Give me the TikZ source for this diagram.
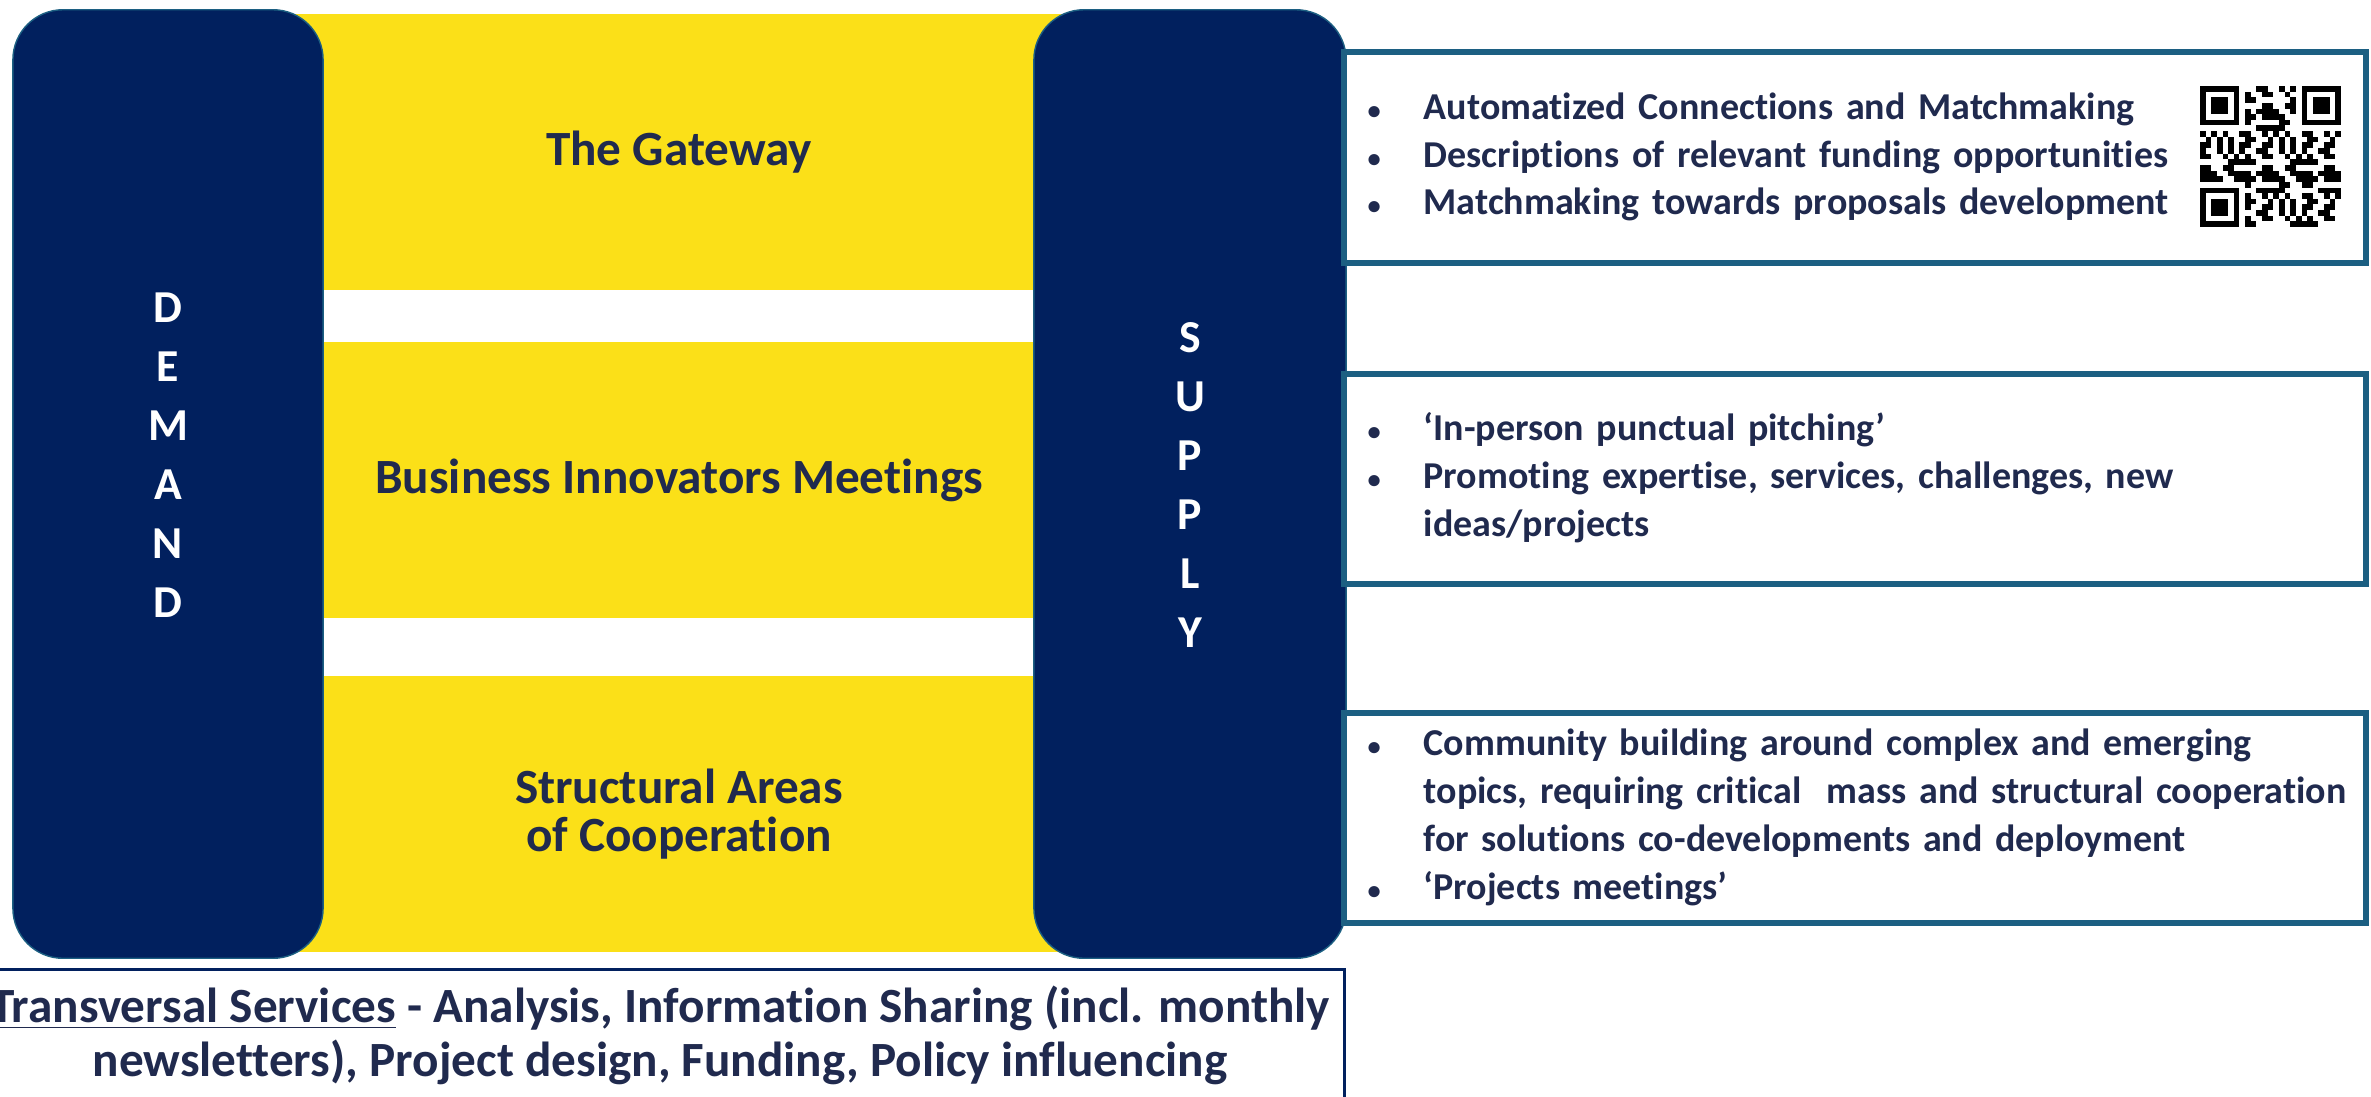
\documentclass[tikz,border=0pt]{standalone}
\usepackage{fontspec}
\setmainfont{Carlito}[Ligatures={TeX,NoCommon}]
\usepackage{tikz}
\usetikzlibrary{positioning}
\definecolor{PillarBlue}{HTML}{01205E}
\definecolor{GateYellow}{HTML}{FBE018}
\definecolor{TextNavy}{HTML}{202A4E}
\definecolor{BoxBlue}{HTML}{1C5F82}
\newcommand{\dotitem}{{\fontsize{7.5}{7.5}\selectfont\textbullet}}

\begin{document}
\begin{tikzpicture}[x=0.01cm, y=-0.01cm]
  \tikzset{PillarStyle/.style = {shape          = rectangle,
                                 fill           = PillarBlue,
                                 draw           = BoxBlue,
                                 line width     = 0.4pt,
                                 rounded corners = 0.5cm,
                                 minimum width  = 3.10cm,
                                 minimum height = 9.48cm,
                                 inner sep      = 0pt,
                                 outer sep      = 0pt}}
  \tikzset{LetterStyle/.style = {text           = white,
                                 font           = \fontsize{13}{16.8}\selectfont\bfseries,
                                 align          = center,
                                 inner sep      = 0pt}}
  \tikzset{BandStyle/.style = {shape          = rectangle,
                               fill           = GateYellow,
                               text           = TextNavy,
                               font           = \fontsize{14}{13.7}\selectfont\bfseries,
                               align          = center,
                               minimum width  = 10.23cm,
                               minimum height = 2.76cm,
                               inner sep      = 0pt,
                               outer sep      = 0pt}}
  \tikzset{InfoStyle/.style = {shape          = rectangle,
                               draw           = BoxBlue,
                               line width     = 0.06cm,
                               text           = TextNavy,
                               font           = \fontsize{10.8}{13.6}\selectfont\bfseries,
                               minimum width  = 10.22cm,
                               minimum height = 2.10cm,
                               text width     = 9.74cm,
                               align          = left,
                               inner xsep     = 0.24cm,
                               inner ysep     = 0pt,
                               outer sep      = 0pt}}
  \tikzset{BottomStyle/.style = {shape          = rectangle,
                                 draw           = PillarBlue,
                                 line width     = 0.03cm,
                                 text           = TextNavy,
                                 font           = \fontsize{14}{15.4}\selectfont\bfseries,
                                 align          = center,
                                 minimum width  = 13.68cm,
                                 minimum height = 1.30cm,
                                 inner sep      = 0pt}}
  \useasboundingbox (0,0) rectangle (2371,1096);
  \clip (0,0) rectangle (2371,1096);

	%%% BANDES JAUNES %%%
	\node[BandStyle](gateway) at (679,152){The Gateway};
	\node[BandStyle, below=0.52cm of gateway](meetings){Business Innovators Meetings};
	\node[BandStyle, below=0.58cm of meetings](areas){Structural Areas\\of Cooperation};
	%
	%%% PILIERS %%%
	\node[PillarStyle](demand) at (168,484){};
	\node[PillarStyle, minimum width=3.12cm](supply) at (1190,484){};
	\node[LetterStyle](demandtxt) at (168,455){D\\E\\M\\A\\N\\D};
	\node[LetterStyle](supplytxt) at (1190,485){S\\U\\P\\P\\L\\Y};
	%
	%%% OFFRE A DROITE %%%
	\node[InfoStyle](matching) at (1855,157.5){\noindent
	  \begin{tabular}{@{}p{0.56cm}@{}l@{}}
	  \dotitem & Automatized Connections and Matchmaking\\
	  \dotitem & Descriptions of relevant funding opportunities\\
	  \dotitem & Matchmaking towards proposals development
	  \end{tabular}};
	\node[InfoStyle, below=1.11cm of matching](pitching){\noindent
	  \begin{tabular}{@{}p{0.56cm}@{}l@{}}
	  \dotitem & ‘In-person punctual pitching’\\
	  \dotitem & Promoting expertise, services, challenges, new\\
	           & ideas/projects
	  \end{tabular}};
	\node[InfoStyle, below=1.29cm of pitching](community){\noindent
	  \begin{tabular}{@{}p{0.56cm}@{}l@{}}
	  \dotitem & Community building around complex and emerging\\
	           & topics, requiring critical\ \ mass and structural cooperation\\
	           & for solutions co-developments and deployment\\
	  \dotitem & ‘Projects meetings’
	  \end{tabular}};
	%
	%%% QR CODE %%%
	\def\qrm{5.64}
	\foreach \fx/\fy in {0/0, 18/0, 0/18}{
	  \fill (2200+\fx*\qrm, 86+\fy*\qrm) rectangle ++(7*\qrm, 7*\qrm);
	  \fill[white] (2200+\fx*\qrm+\qrm, 86+\fy*\qrm+\qrm) rectangle ++(5*\qrm, 5*\qrm);
	  \fill (2200+\fx*\qrm+2*\qrm, 86+\fy*\qrm+2*\qrm) rectangle ++(3*\qrm, 3*\qrm);
	}
	\foreach \i in {0,...,24}{
	  \foreach \j in {0,...,24}{
	    \pgfmathtruncatemacro{\infinder}{(\i<8 && \j<8) || (\i>16 && \j<8) || (\i<8 && \j>16)}
	    \pgfmathtruncatemacro{\bit}{mod(\i*\i*3+\j*\j*7+\i*\j*5+\i*3+\j*5,11)<5}
	    \ifnum\infinder=0 \ifnum\bit=1
	      \fill (2200+\i*\qrm, 86+\j*\qrm) rectangle ++(\qrm, \qrm);
	    \fi\fi
	  }
	}
	%
	%%% SERVICES TRANSVERSAUX %%%
	\node[BottomStyle](transversal) at (660,1035){\underline{Transversal Services} - Analysis, Information Sharing (incl. monthly\\newsletters), Project design, Funding, Policy influencing};
\end{tikzpicture}
\end{document}
